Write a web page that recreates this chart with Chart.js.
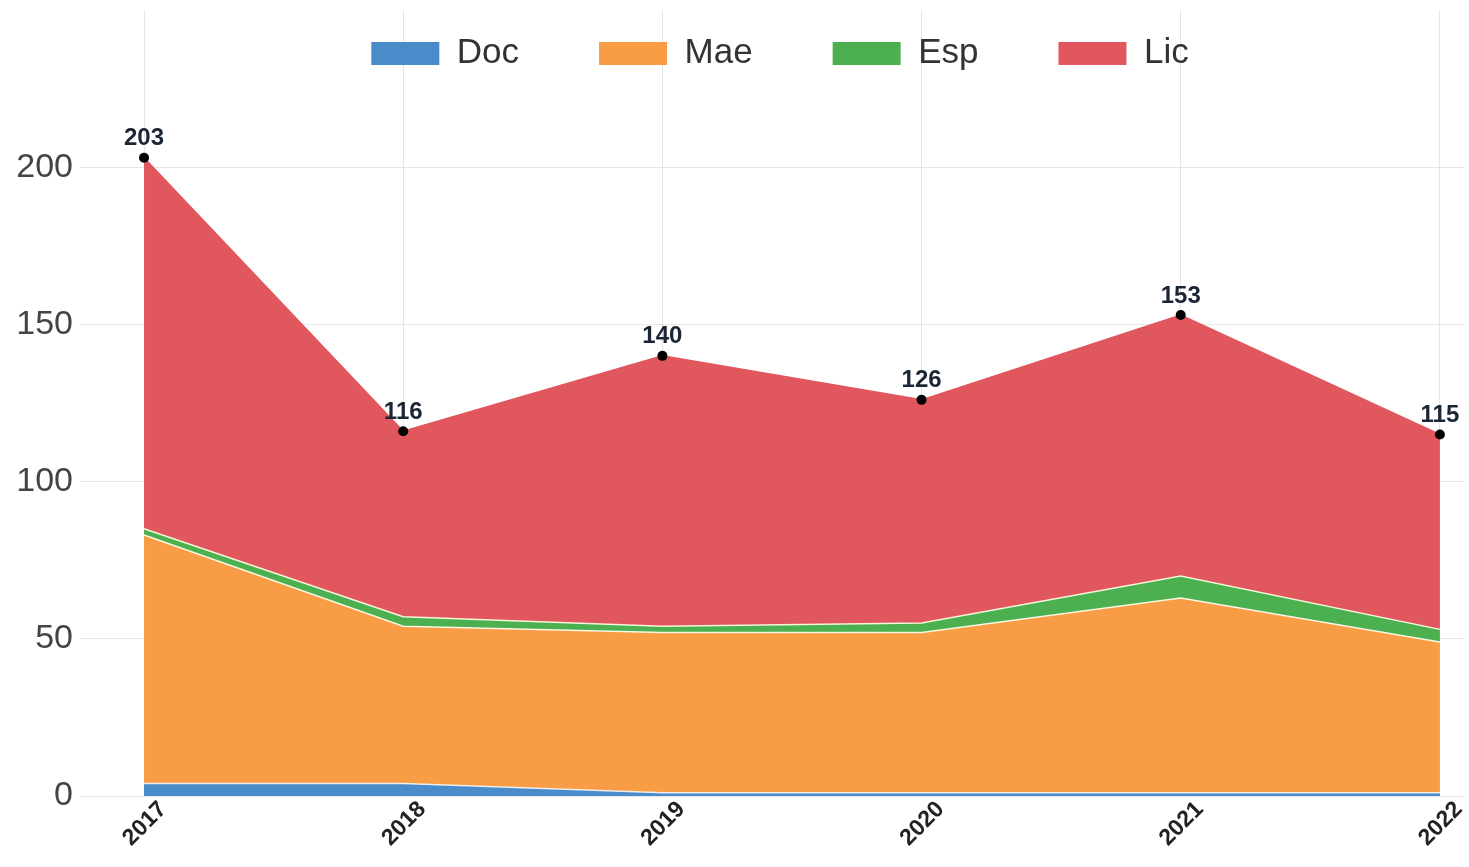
<!DOCTYPE html>
<html><head><meta charset="utf-8">
<script src="https://cdn.jsdelivr.net/npm/chart.js@4.4.1/dist/chart.umd.min.js"></script>
<style>html,body{margin:0;padding:0;background:#fff;overflow:hidden;}</style>
</head><body>
<canvas id="c" width="1469" height="867" style="width:1469px;height:867px;display:block"></canvas>
<script>
const years = ['2017','2018','2019','2020','2021','2022'];
const doc = [4, 4, 1, 1, 1, 1];
const mae = [79, 50, 51, 51, 62, 48];
const esp = [2, 3, 2, 3, 7, 4];
const lic = [118, 59, 86, 71, 83, 62];
const yTicks = [0, 50, 100, 150, 200];
const seriesNames = ['Doc', 'Mae', 'Esp', 'Lic'];

const totals = years.map((_, i) => doc[i] + mae[i] + esp[i] + lic[i]);
const FONT = "'Liberation Sans', Arial, Helvetica, sans-serif";
const toPts = arr => arr.map((v, i) => ({x: Number(years[i]), y: v}));

const LEGEND_SHIFT_X = 88, LEGEND_SHIFT_Y = -54;

const totalLabels = {
  id: 'totalLabels',
  afterInit(chart) {
    if (chart.legend) chart.legend.isHorizontal = () => true;
  },
  afterLayout(chart) {
    const lg = chart.legend;
    if (!lg) return;
    lg.top += LEGEND_SHIFT_Y; lg.bottom += LEGEND_SHIFT_Y;
    lg.left += LEGEND_SHIFT_X; lg.right += LEGEND_SHIFT_X;
  },
  afterDatasetsDraw(chart) {
    const meta = chart.getDatasetMeta(3);
    const ctx = chart.ctx;
    ctx.save();
    ctx.font = "bold 24px " + FONT;
    ctx.fillStyle = '#1a2535';
    ctx.textAlign = 'center';
    ctx.textBaseline = 'bottom';
    meta.data.forEach((el, i) => {
      ctx.fillText(String(totals[i]), el.x, el.y - 7);
    });
    ctx.restore();
  }
};

const mk = (label, data, color, fill, border, extra) => Object.assign({
  label, data: toPts(data), backgroundColor: color, borderColor: border,
  borderWidth: 1.5, fill, pointRadius: 0, tension: 0
}, extra || {});

new Chart(document.getElementById('c'), {
  type: 'line',
  data: {
    datasets: [
      mk(seriesNames[0], doc, '#4a8bc9', 'origin', 'rgba(255,255,255,0.8)'),
      mk(seriesNames[1], mae, '#f89c45', '-1', 'rgba(255,255,240,0.9)'),
      mk(seriesNames[2], esp, '#4cb051', '-1', 'rgba(255,255,230,0.9)'),
      mk(seriesNames[3], lic, '#e0575d', '-1', '#e0575d', {pointRadius: 5, pointBackgroundColor: '#000', pointBorderWidth: 0, pointHoverRadius: 5})
    ]
  },
  options: {
    responsive: false,
    animation: false,
    devicePixelRatio: 1,
    layout: {padding: {top: 10, right: 0, left: 0, bottom: 0}},
    plugins: {
      legend: {
        position: 'chartArea',
        align: 'center',
        labels: {
          boxWidth: 68, boxHeight: 23, padding: 80,
          font: {size: 35, family: FONT}, color: '#333',
          generateLabels: chart => Chart.defaults.plugins.legend.labels.generateLabels(chart)
            .map(l => Object.assign(l, {strokeStyle: l.fillStyle, lineWidth: 0}))
        }
      },
      tooltip: {enabled: false}
    },
    scales: {
      x: {
        type: 'linear',
        min: 2016.7529, max: 2022.093,
        afterBuildTicks: s => { s.ticks = years.map(y => ({value: Number(y)})); },
        afterFit: s => { s.height = 71; s.paddingLeft = 0; s.paddingRight = 0; },
        ticks: {
          callback: v => String(v),
          minRotation: 45, maxRotation: 45,
          labelOffset: 19, padding: 0,
          font: {size: 23, weight: 'bold', family: FONT}, color: '#222'
        },
        grid: {color: '#e6e6e6', lineWidth: 1, drawTicks: false},
        border: {display: false}
      },
      y: {
        stacked: true,
        min: 0, max: 250,
        afterBuildTicks: s => { s.ticks = yTicks.map(v => ({value: v})); },
        afterFit: s => { s.width = 80; s.paddingTop = 0; s.paddingBottom = 0; },
        ticks: {
          padding: 7,
          font: {size: 34, family: FONT}, color: '#444'
        },
        grid: {color: '#e6e6e6', lineWidth: 1, drawTicks: false},
        border: {display: false}
      }
    }
  },
  plugins: [totalLabels]
});
</script>
</body></html>
